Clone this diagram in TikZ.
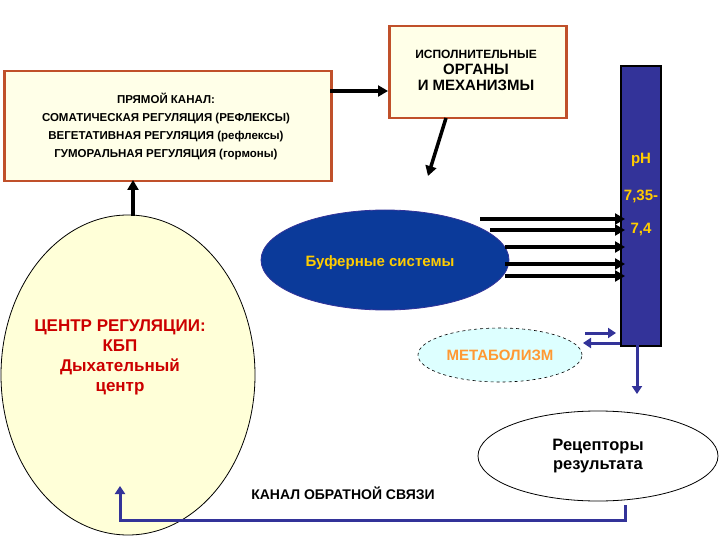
\documentclass[tikz,border=0pt]{standalone}
\usepackage{fontspec}
\setmainfont{Liberation Sans}
\usetikzlibrary{arrows.meta,shapes.geometric}
\definecolor{boxfill}{HTML}{FFFFE8}
\definecolor{boxline}{HTML}{C0502A}
\definecolor{navy}{HTML}{333399}
\definecolor{dblue}{HTML}{0B3A9A}
\definecolor{ylw}{HTML}{FFCC00}
\definecolor{orng}{HTML}{FF9933}
\definecolor{cyanl}{HTML}{DDFFFF}
\definecolor{circ}{HTML}{FFFFD8}
\definecolor{redt}{HTML}{CC0000}
\tikzset{
 box/.style={draw=boxline,line width=2.5pt,fill=boxfill},
 blk/.style={line width=3.5pt,-{Triangle[length=10pt,width=11pt]}},
 bl/.style={draw=navy,line width=3pt},
 blarrow/.style={bl,-{Triangle[length=8pt,width=10pt]}},
}
\begin{document}
\begin{tikzpicture}[x=1pt,y=-1pt,font=\bfseries]
\useasboundingbox (0,0) rectangle (720,540);
% boxes
\node[box,minimum width=327pt,minimum height=110pt,anchor=north west,inner sep=0pt] (left) at (3,70) {};
\node[font=\bfseries\fontsize{11.5}{13}\selectfont,align=center] (lt) at (166,126)
 {ПРЯМОЙ КАНАЛ:\\[5pt]СОМАТИЧЕСКАЯ РЕГУЛЯЦИЯ (РЕФЛЕКСЫ)\\[5pt]ВЕГЕТАТИВНАЯ РЕГУЛЯЦИЯ (рефлексы)\\[5pt]ГУМОРАЛЬНАЯ РЕГУЛЯЦИЯ (гормоны)};
\node[box,minimum width=177pt,minimum height=92pt,anchor=north west,inner sep=0pt] (top) at (388,25) {};
\node[align=center,font=\bfseries\fontsize{12}{16}\selectfont] at (476,70) {ИСПОЛНИТЕЛЬНЫЕ\\{\fontsize{15}{17}\selectfont ОРГАНЫ}\\{\fontsize{15}{17}\selectfont И МЕХАНИЗМЫ}};
% pH bar
\node[draw=black,line width=2pt,fill=navy,minimum width=40pt,minimum height=280pt,anchor=north west,inner sep=0pt] (ph) at (620,65) {};
\node[text=ylw,font=\bfseries\fontsize{15}{17}\selectfont] at (641,160) {pH};
\node[text=ylw,font=\bfseries\fontsize{15}{17}\selectfont] at (641,196) {7,35-};
\node[text=ylw,font=\bfseries\fontsize{15}{17}\selectfont] at (641,230) {7,4};
% ellipses
\node[draw=black,line width=0.8pt,fill=circ,ellipse,minimum width=254pt,minimum height=320pt] (center) at (128,375) {};
\node[text=redt,align=center,font=\bfseries\fontsize{17}{20}\selectfont] at (120,357) {ЦЕНТР РЕГУЛЯЦИИ:\\КБП\\Дыхательный\\центр};
\node[draw=navy,line width=0.8pt,fill=dblue,ellipse,minimum width=248pt,minimum height=100pt] (buf) at (385,260) {};
\node[text=ylw,font=\bfseries\fontsize{15}{17}\selectfont] at (380,263) {Буферные системы};
\node[draw=black,dashed,line width=0.6pt,fill=cyanl,ellipse,minimum width=164pt,minimum height=54pt,text=orng,font=\bfseries\fontsize{15}{17}\selectfont] (met) at (500,355) {МЕТАБОЛИЗМ};
\node[draw=black,line width=0.8pt,fill=white,ellipse,minimum width=240pt,minimum height=90pt,align=center,font=\bfseries\fontsize{16.5}{19}\selectfont] (rec) at (598,456) {Рецепторы\\результата};
\node[font=\bfseries\fontsize{14}{16}\selectfont] (fb) at (343,493) {КАНАЛ ОБРАТНОЙ СВЯЗИ};
% arrows
\coordinate (a1) at (133,216); \coordinate (a2) at (133,180);
\draw[blk] (a1) -- (a2);
\coordinate (b1) at (330,91); \coordinate (b2) at (388,91);
\draw[blk] (b1) -- (b2);
\coordinate (d1) at (446,118); \coordinate (d2) at (428,176);
\draw[blk] (d1) -- (d2);
\foreach \y/\x in {219/480,230/490,247/505,264/505,276/505}{
 \coordinate (s) at (\x,\y); \coordinate (e) at (625,\y);
 \draw[blk] (s) -- (e);}
\coordinate (m1) at (585,333); \coordinate (m2) at (616,333);
\draw[blarrow] (m1) -- (m2);
\coordinate (m3) at (620,343); \coordinate (m4) at (583,343);
\draw[blarrow] (m3) -- (m4);
\coordinate (p1) at (637,345); \coordinate (p2) at (637,394);
\draw[blarrow] (p1) -- (p2);
\coordinate (r1) at (625,505); \coordinate (r2) at (120,486);
\draw[blarrow] (r1) -- (625,520) -- (120,520) -- (r2);
\end{tikzpicture}
\end{document}
